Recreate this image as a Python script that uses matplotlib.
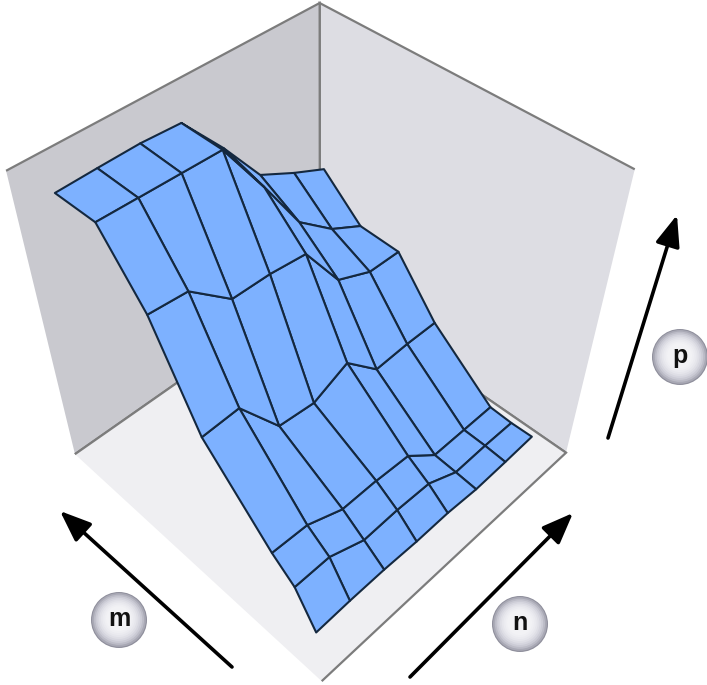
import numpy as np
import matplotlib
matplotlib.use("Agg")
import matplotlib.pyplot as plt
from matplotlib.patches import Circle

# --- data: surface heights p over the grid (n along columns, m along rows) ---
m_values = [0.097, 0.172, 0.251, 0.486, 0.641, 0.792, 0.944]
n_values = [0.078, 0.201, 0.331, 0.46, 0.588, 0.711, 0.84, 0.961]
p_row0 = [0.017, 0.023, 0.024, 0.018, 0.02, 0.01, 0.015, 0.022]
p_row1 = [0.141, 0.141, 0.081, 0.086, 0.08, 0.018, 0.022, 0.02]
p_row2 = [0.206, 0.199, 0.139, 0.139, 0.13, 0.025, 0.025, 0.025]
p_row3 = [0.447, 0.452, 0.275, 0.261, 0.319, 0.2, 0.207, 0.206]
p_row4 = [0.748, 0.738, 0.625, 0.623, 0.609, 0.438, 0.384, 0.382]
p_row5 = [0.929, 0.927, 0.925, 0.923, 0.74, 0.551, 0.449, 0.387]
p_row6 = [0.925, 0.928, 0.93, 0.923, 0.781, 0.627, 0.563, 0.51]
axis_labels = ["m", "n", "p"]

W, H = 707, 685
fig = plt.figure(figsize=(W / 100, H / 100), dpi=100, facecolor="white")
ax = fig.add_axes([-31.1263 / W, 4.0861 / H, H / W, 1], projection="3d")
ax.patch.set_visible(False)
ax.set_xlim(0, 1, view_margin=0)
ax.set_ylim(0, 1, view_margin=0)
ax.set_zlim(0, 1, view_margin=0)
ax.view_init(46.2115, -135.2134)
ax.set_proj_type("persp", focal_length=0.3199)
ax.set_box_aspect((1, 1, 1.0345), zoom=0.9682)
ax.grid(False)
ax.set_xticks([]); ax.set_yticks([]); ax.set_zticks([])
for axis, col in ((ax.xaxis, "#dddde3"), (ax.yaxis, "#c9c9cf"), (ax.zaxis, "#efeff2")):
    axis.set_pane_color(col)
    axis.pane.set_edgecolor("#7c7c7c")
    axis.pane.set_linewidth(1.6)
    axis.line.set_color((0, 0, 0, 0))

Ng, Mg = np.meshgrid(n_values, m_values)
P = np.array([p_row0, p_row1, p_row2, p_row3, p_row4, p_row5, p_row6])
ax.plot_surface(Ng, Mg, P, rstride=1, cstride=1, color="#7DB1FF", shade=False,
                edgecolor="#14283f", linewidth=1.5, antialiased=True)

# overlay in pixel coordinates for arrows and round badges
ov = fig.add_axes([0, 0, 1, 1], zorder=5)
ov.set_xlim(0, W); ov.set_ylim(H, 0); ov.axis("off"); ov.patch.set_visible(False)
arrows = [((232, 667), (60, 511)), ((410, 677), (573, 513)), ((608, 438), (677, 215))]
for tail, tip in arrows:
    ov.annotate("", xy=tip, xytext=tail,
                arrowprops=dict(arrowstyle="-|>,head_length=1.9,head_width=0.75",
                                color="black", lw=2.6, shrinkA=0, shrinkB=0))
badges = [(119, 620), (520, 624), (680, 357)]
for (cx, cy), lab in zip(badges, axis_labels):
    ov.add_patch(Circle((cx, cy), 28, fc="#8f8f9c", ec="none"))
    for frac, col in zip(np.linspace(0.96, 0.45, 9),
                         ["#a9a9b5", "#bcbcc7", "#cbcbd5", "#d6d6df", "#dfdfe6",
                          "#e6e6ec", "#ebebf0", "#efeff3", "#f2f2f5"]):
        off = (1 - frac) * 2.5
        ov.add_patch(Circle((cx - off * 0.3, cy - off), 28 * frac, fc=col, ec="none"))
    ov.text(cx, cy - 1, lab, ha="center", va="center", fontsize=18,
            fontweight="bold", family="Liberation Sans", color="#111111")

fig.savefig("out.png", dpi=100)
